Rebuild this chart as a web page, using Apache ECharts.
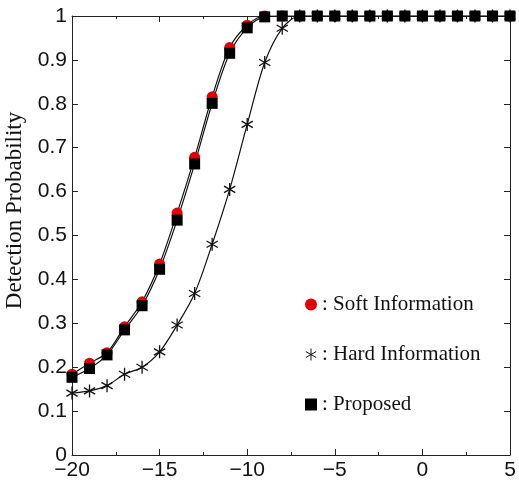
<!DOCTYPE html>
<html>
<head>
<meta charset="utf-8">
<script src="https://cdn.jsdelivr.net/npm/echarts@6/dist/echarts.min.js"></script>
<style>
  html,body{margin:0;padding:0;background:#fff;}
  #chart{width:519px;height:490px;}
</style>
</head>
<body>
<div id="chart"></div>
<script>
// x positions (SNR, dB)
const snr=[-20,-19,-18,-17,-16,-15,-14,-13,-12,-11,-10,-9,-8,-7,-6,-5,-4,-3,-2,-1,0,1,2,3,4,5];
// detection probability per scheme
const softInfo=[0.184,0.209,0.233,0.292,0.349,0.435,0.551,0.678,0.816,0.928,0.979,1,1,1,1,1,1,1,1,1,1,1,1,1,1,1];
const hardInfo=[0.141,0.146,0.158,0.184,0.200,0.235,0.296,0.368,0.480,0.605,0.753,0.894,0.972,1,1,1,1,1,1,1,1,1,1,1,1,1];
const proposed=[0.177,0.197,0.228,0.285,0.340,0.423,0.535,0.663,0.801,0.915,0.973,0.998,1,1,1,1,1,1,1,1,1,1,1,1,1,1];
const seriesNames=['Soft Information','Hard Information','Proposed'];

const asterisk='path://M0,-1L0,1M-0.866,-0.5L0.866,0.5M-0.866,0.5L0.866,-0.5';
const toPairs=ys=>snr.map((x,i)=>[x,ys[i]]);

const chart=echarts.init(document.getElementById('chart'));

const axisBase={
    axisLine:{show:true,onZero:false,lineStyle:{color:'#222',width:1}},
    axisTick:{show:true,inside:true,length:6,lineStyle:{color:'#222'}},
    splitLine:{show:false}
};

chart.setOption({
    animation:false,
    backgroundColor:'#fff',
    grid:{left:72,right:9,top:16,bottom:35,containLabel:false,outerBoundsMode:'none'},
    xAxis:[
        {...axisBase,type:'value',position:'bottom',min:-20,max:5,interval:5,
            minorTick:{show:true,splitNumber:2,length:3,lineStyle:{color:'#222'}},
            axisLabel:{color:'#111',fontFamily:'Liberation Sans',fontSize:21,margin:5,
                formatter:v=>String(v).replace('-','\u2212')}},
        {...axisBase,type:'value',position:'top',min:-20,max:5,interval:5,
            minorTick:{show:true,splitNumber:2,length:3,lineStyle:{color:'#222'}},
            axisLabel:{show:false}}
    ],
    yAxis:[
        {...axisBase,type:'value',position:'left',min:0,max:1,interval:0.1,
            name:'Detection Probability',nameLocation:'middle',nameGap:42,
            nameTextStyle:{fontFamily:'Liberation Serif',fontSize:23,color:'#111',padding:[0,0,0,50]},
            axisLabel:{color:'#111',fontFamily:'Liberation Sans',fontSize:21,margin:5,
                formatter:v=>String(Math.round(v*10)/10)}},
        {...axisBase,type:'value',position:'right',min:0,max:1,interval:0.1,
            axisLabel:{show:false}}
    ],
    legend:{
        orient:'vertical',left:300,top:289,itemGap:29,itemWidth:12,itemHeight:12,
        textStyle:{fontFamily:'Liberation Serif',fontSize:21,color:'#111'},
        formatter:n=>': '+n,
        data:[
            {name:seriesNames[0],icon:'circle',itemStyle:{color:'#e00000',borderWidth:0}},
            {name:seriesNames[1],icon:asterisk,itemStyle:{color:'transparent',borderColor:'#111',borderWidth:1}},
            {name:seriesNames[2],icon:'rect',itemStyle:{color:'#000',borderWidth:0}}
        ]
    },
    series:[
        {name:seriesNames[0],type:'line',smooth:0.3,data:toPairs(softInfo),
            symbol:'circle',symbolSize:11,
            itemStyle:{color:'#e00000'},lineStyle:{color:'#111',width:1.2}},
        {name:seriesNames[1],type:'line',smooth:0.3,data:toPairs(hardInfo),
            symbol:asterisk,symbolSize:13,symbolKeepAspect:true,
            itemStyle:{color:'transparent',borderColor:'#111',borderWidth:1.3},
            lineStyle:{color:'#111',width:1.2}},
        {name:seriesNames[2],type:'line',smooth:0.3,data:toPairs(proposed),
            symbol:'rect',symbolSize:11,
            itemStyle:{color:'#000'},lineStyle:{color:'#111',width:1.2}}
    ]
});
</script>
</body>
</html>
